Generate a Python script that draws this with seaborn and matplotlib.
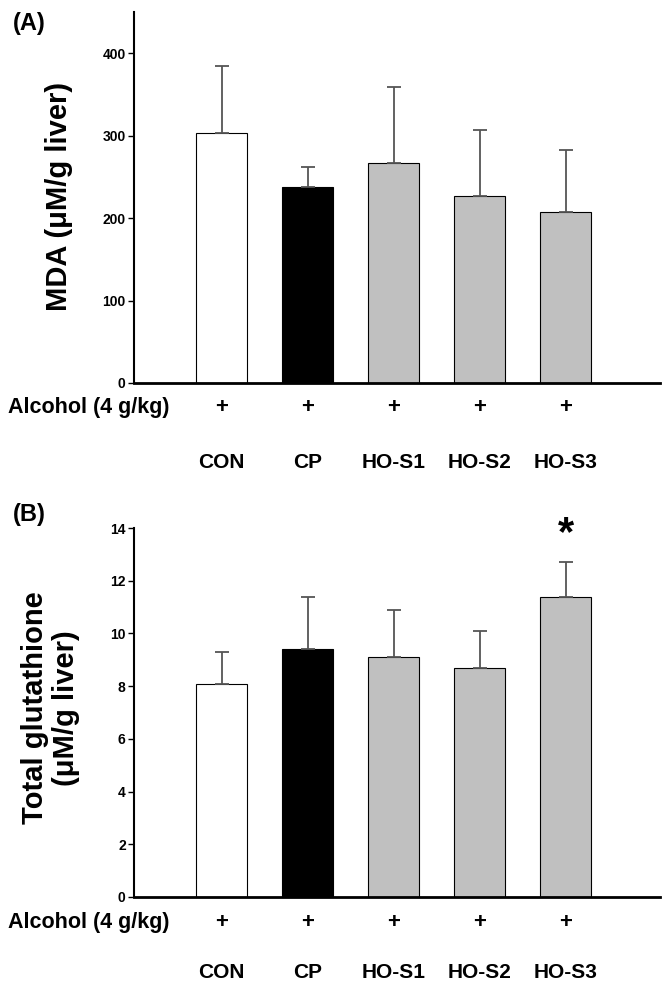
import seaborn as sns
import matplotlib.pyplot as plt
import matplotlib.transforms as mtransforms
import pandas as pd

groups = ['CON', 'CP', 'HO-S1', 'HO-S2', 'HO-S3']
bar_colors = ['white', 'black', '#c0c0c0', '#c0c0c0', '#c0c0c0']

mda = [303, 238, 267, 227, 207]
mda_err = [81, 24, 92, 80, 76]

gsh = [8.1, 9.4, 9.1, 8.7, 11.4]
gsh_err = [1.2, 2.0, 1.8, 1.4, 1.3]

sns.set_style('white')
plt.rcParams['font.family'] = ['Liberation Sans', 'DejaVu Sans']
plt.rcParams['text.color'] = 'black'
plt.rcParams['ytick.color'] = 'black'

fig = plt.figure(figsize=(6.71, 9.82), dpi=100)
ax1 = fig.add_axes([0.1997, 0.610, 0.784, 0.3778])
ax2 = fig.add_axes([0.1997, 0.0866, 0.784, 0.3757])


def panel(ax, vals, errs, ymax, yticks, plus_y, lab_y):
    df = pd.DataFrame({'group': groups, 'value': vals})
    sns.barplot(data=df, x='group', y='value', hue='group', palette=bar_colors,
                edgecolor='black', linewidth=0.8, width=0.59, errorbar=None,
                legend=False, ax=ax)
    ax.errorbar(range(len(groups)), vals, yerr=[[0] * len(errs), errs], fmt='none',
                ecolor='#555555', elinewidth=1.3, capsize=5, capthick=1.3)
    ax.set_xlim(-1.02, 5.1)
    ax.set_ylim(0, ymax)
    ax.set_yticks(yticks)
    ax.set_yticklabels([str(t) for t in yticks], fontsize=10, fontweight='bold')
    ax.set_xticks([])
    ax.set_xlabel('')
    ax.set_ylabel('')
    sns.despine(ax=ax)
    ax.spines['left'].set_linewidth(1.5)
    ax.spines['bottom'].set_linewidth(2)
    ax.spines['left'].set_color('black')
    ax.spines['bottom'].set_color('black')
    ax.tick_params(axis='y', direction='out', length=4, width=1, left=True, pad=2,
                   colors='black')
    tr = ax.get_xaxis_transform()
    for i, g in enumerate(groups):
        ax.text(i, plus_y, '+', transform=tr, ha='center', va='center',
                fontsize=16, fontweight='bold')
        ax.text(i, lab_y, g, transform=tr, ha='center', va='center',
                fontsize=15, fontweight='bold')
    row = mtransforms.blended_transform_factory(fig.transFigure, ax.transAxes)
    ax.text(8 / 671, plus_y, 'Alcohol (4 g/kg)', transform=row, ha='left',
            va='center', fontsize=15.5, fontweight='bold')


panel(ax1, mda, mda_err, 450, [0, 100, 200, 300, 400], -0.067, -0.213)
panel(ax2, gsh, gsh_err, 14, [0, 2, 4, 6, 8, 10, 12, 14], -0.068, -0.206)

fig.text(0.088, 0.800, 'MDA (\u03bcM/g liver)', rotation=90, ha='center', va='center',
         fontsize=21, fontweight='bold')
fig.text(0.075, 0.279, 'Total glutathione\n(\u03bcM/g liver)', rotation=90, ha='center',
         va='center', fontsize=21, fontweight='bold', linespacing=1.15)

ax2.text(4, 13.0, '*', ha='center', va='bottom', fontsize=30, fontweight='bold', clip_on=False)

fig.text(0.019, 0.976, '(A)', fontsize=17, fontweight='bold', va='center')
fig.text(0.019, 0.476, '(B)', fontsize=17, fontweight='bold', va='center')

fig.savefig('out.png', dpi=100)
